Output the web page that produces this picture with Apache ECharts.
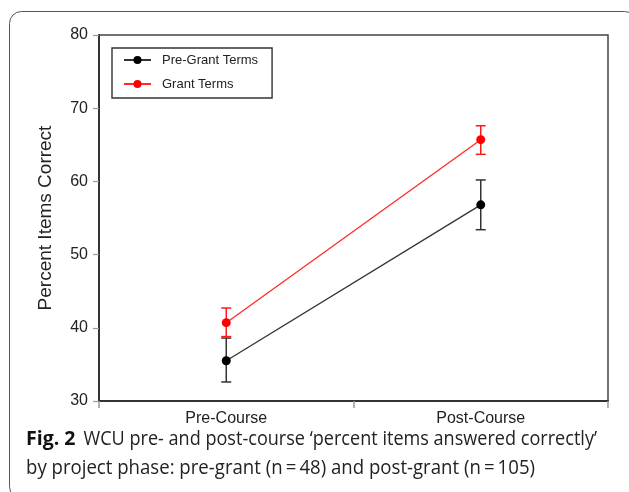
<!DOCTYPE html>
<html>
<head>
<meta charset="utf-8">
<script src="https://cdn.jsdelivr.net/npm/echarts@6/dist/echarts.min.js"></script>
<style>
html,body{margin:0;padding:0;background:#fff;}
#chart{width:629px;height:492px;}
</style>
</head>
<body>
<div id="chart"></div>
<script>
const categories = ['Pre-Course', 'Post-Course'];
const yTicks = { min: 30, max: 80, interval: 10 };
const preGrantMean = [35.5, 56.8];
const preGrantLow = [32.6, 53.4];
const preGrantHigh = [38.6, 60.2];
const grantMean = [40.7, 65.7];
const grantLow = [38.8, 63.7];
const grantHigh = [42.7, 67.6];
const seriesNames = ['Pre-Grant Terms', 'Grant Terms'];
const captionBold = 'Fig. 2';
const captionLine1 = 'WCU pre- and post-course \u2018percent items answered correctly\u2019';
const captionLine2 = 'by project phase: pre-grant (n\u2009=\u200948) and post-grant (n\u2009=\u2009105)';

const FONT = '"Liberation Sans", Arial, Helvetica, sans-serif';
const CAPFONT = '"Open Sans", "Noto Sans", sans-serif';

function measure(text, font) {
  const c = document.createElement('canvas').getContext('2d');
  c.font = font;
  return c.measureText(text).width;
}
const capSize = 20;
const sBold = 49.5 / measure(captionBold, 'bold ' + capSize + 'px "Open Sans"');
const s1 = 513.5 / measure(captionLine1, capSize + 'px "Open Sans"');
const s2 = 509 / measure(captionLine2, capSize + 'px "Open Sans"');

function errRender(color) {
  return function (params, api) {
    const x = api.value(0), lo = api.value(1), hi = api.value(2);
    const a = api.coord([x, lo]);
    const b = api.coord([x, hi]);
    const w = 5;
    const st = { stroke: color, lineWidth: 1.5 };
    return {
      type: 'group',
      children: [
        { type: 'line', shape: { x1: a[0], y1: a[1], x2: b[0], y2: b[1] }, style: st },
        { type: 'line', shape: { x1: a[0] - w, y1: a[1], x2: a[0] + w, y2: a[1] }, style: st },
        { type: 'line', shape: { x1: b[0] - w, y1: b[1], x2: b[0] + w, y2: b[1] }, style: st }
      ]
    };
  };
}

const chart = echarts.init(document.getElementById('chart'), null, { renderer: 'canvas' });
const option = {
  animation: false,
  backgroundColor: '#fff',
  textStyle: { fontFamily: FONT },
  grid: {
    left: 99, top: 35, right: 21, bottom: 91,
    show: true, borderColor: '#444', borderWidth: 1.5, backgroundColor: 'transparent'
  },
  legend: {
    orient: 'vertical',
    left: 112, top: 48,
    padding: [5, 14, 7, 11],
    itemGap: 10,
    itemWidth: 27, itemHeight: 10,
    borderColor: '#333', borderWidth: 1.4,
    textStyle: { fontSize: 13, color: '#222', fontFamily: FONT, lineHeight: 14, padding: [0, 0, 0, 6] },
    data: seriesNames
  },
  xAxis: {
    type: 'category',
    data: categories,
    boundaryGap: true,
    axisLine: { show: true, lineStyle: { color: '#333', width: 2 } },
    axisTick: { show: true, length: 7, lineStyle: { color: '#999', width: 1.5 } },
    axisLabel: { fontSize: 16, color: '#222', margin: 10, fontFamily: FONT },
    splitLine: { show: false }
  },
  yAxis: {
    type: 'value',
    min: yTicks.min, max: yTicks.max, interval: yTicks.interval,
    name: 'Percent Items Correct',
    nameLocation: 'middle',
    nameGap: 44,
    nameRotate: 90,
    nameTextStyle: { fontSize: 19, color: '#222', fontFamily: FONT },
    axisLine: { show: true, lineStyle: { color: '#333', width: 2 } },
    axisTick: { show: true, length: 6, lineStyle: { color: '#999', width: 1.2 } },
    axisLabel: { fontSize: 16, color: '#222', margin: 11, fontFamily: FONT },
    splitLine: { show: false }
  },
  series: [
    {
      type: 'custom', name: 'err1', z: 2,
      renderItem: errRender('#333'),
      data: categories.map((c, i) => [i, preGrantLow[i], preGrantHigh[i]]),
      silent: true
    },
    {
      type: 'custom', name: 'err2', z: 2,
      renderItem: errRender('#ff1a1a'),
      data: categories.map((c, i) => [i, grantLow[i], grantHigh[i]]),
      silent: true
    },
    {
      type: 'line', name: seriesNames[0], z: 3,
      data: preGrantMean,
      symbol: 'circle', symbolSize: 9,
      itemStyle: { color: '#000' },
      lineStyle: { color: '#333', width: 1.3 }
    },
    {
      type: 'line', name: seriesNames[1], z: 3,
      data: grantMean,
      symbol: 'circle', symbolSize: 9,
      itemStyle: { color: '#ff0000' },
      lineStyle: { color: '#ff2a2a', width: 1.3 }
    }
  ],
  graphic: [
    {
      type: 'rect', silent: true,
      shape: { x: 9.5, y: 11.5, width: 627, height: 487, r: 12 },
      style: { fill: 'none', stroke: '#555', lineWidth: 1 }
    },
    {
      type: 'text', x: 26, y: 429, scaleX: sBold,
      style: { text: captionBold, font: 'bold ' + capSize + 'px ' + CAPFONT, fill: '#111' }
    },
    {
      type: 'text', x: 83.5, y: 429, scaleX: s1,
      style: { text: captionLine1, font: capSize + 'px ' + CAPFONT, fill: '#222' }
    },
    {
      type: 'text', x: 26, y: 458, scaleX: s2,
      style: { text: captionLine2, font: capSize + 'px ' + CAPFONT, fill: '#222' }
    }
  ]
};
chart.setOption(option);
</script>
</body>
</html>
